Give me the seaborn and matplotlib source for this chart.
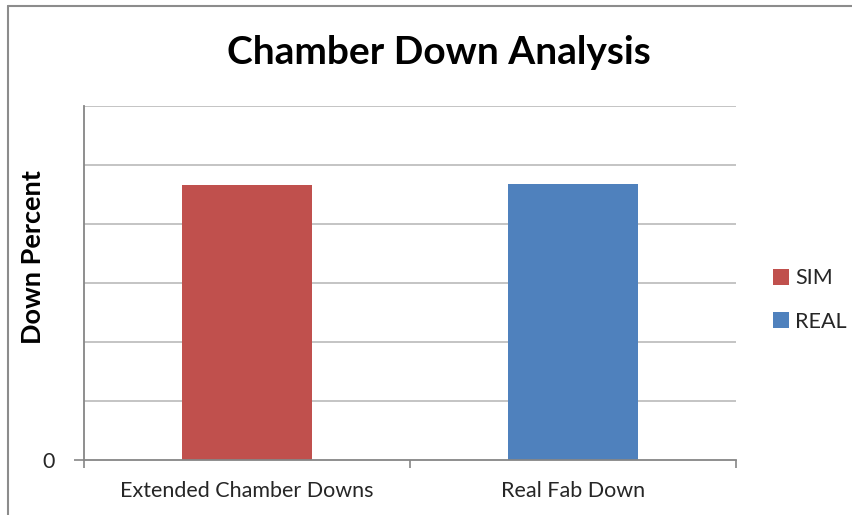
import matplotlib
matplotlib.use("Agg")
import matplotlib.pyplot as plt
from matplotlib.lines import Line2D
import seaborn as sns
import pandas as pd

# Chart data
categories = ["Extended Chamber Downs", "Real Fab Down"]
series = ["SIM", "REAL"]
values = [4.66, 4.68]
colors = ["#C0504D", "#4F81BD"]

sns.set_theme(style="white")
plt.rcParams["font.family"] = ["Lato", "DejaVu Sans"]

df = pd.DataFrame({"category": categories, "series": series, "value": values})

fig = plt.figure(figsize=(8.53, 5.15), dpi=100)
ax = fig.add_axes([84 / 853, 1 - 460 / 515, (736 - 84) / 853, (460 - 106) / 515])

sns.barplot(data=df, x="category", y="value", hue="series", hue_order=series,
            palette=colors, dodge=False, width=0.4, saturation=1, ax=ax,
            legend=True, linewidth=0, edgecolor="none")

ax.set_xlim(-0.5, 1.5)
ax.set_ylim(0, 6)

# y axis: only the zero is labelled, gridlines at each unit
ax.set_yticks([0])
ax.set_yticklabels(["0"], fontsize=15.5)
ax.set_yticks([1, 2, 3, 4, 5, 6], minor=True)
ax.tick_params(axis="y", which="major", length=7, width=1.2, color="#868686",
               pad=14, left=True)
ax.tick_params(axis="y", which="minor", length=0)
ax.grid(False)
ax.yaxis.grid(True, which="minor", color="#BFBFBF", linewidth=1.3)
ax.set_axisbelow(True)

# x axis: tick marks between categories
ax.set_xticks([0, 1])
ax.set_xticklabels(categories, fontsize=15.5)
ax.set_xticks([-0.5, 0.5, 1.5], minor=True)
ax.tick_params(axis="x", which="major", length=0, pad=15)
ax.tick_params(axis="x", which="minor", length=6, width=1.2, color="#868686",
               bottom=True, direction="out")
ax.set_xlabel("")

ax.set_ylabel("Down Percent", fontsize=19.5, fontweight="bold", color="black")
ax.yaxis.set_label_coords(-(84 - 45) / 652, (460 - 257) / 354)

for side in ["top", "right"]:
    ax.spines[side].set_visible(False)
for side in ["left", "bottom"]:
    ax.spines[side].set_color("#868686")
    ax.spines[side].set_linewidth(1.3)

fig.text(439 / 853, 1 - 53 / 515, "Chamber Down Analysis", ha="center",
         va="center", fontsize=28, fontweight="bold", color="black")

leg = ax.legend(loc="center left", bbox_to_anchor=(762 / 853, 1 - 300 / 515),
                bbox_transform=fig.transFigure, frameon=False, fontsize=15.5,
                handlelength=0.75, handleheight=0.75, handletextpad=0.3,
                labelspacing=1.1, borderpad=0)

# chart frame
frame_color = "#8C8C8C"
fig.add_artist(Line2D([8 / 853, 8 / 853], [0, 1 - 6 / 515], color=frame_color,
                      linewidth=1.5, transform=fig.transFigure))
fig.add_artist(Line2D([8 / 853, 1], [1 - 6 / 515, 1 - 6 / 515],
                      color=frame_color, linewidth=1.5,
                      transform=fig.transFigure))

fig.savefig("out.png", dpi=100, facecolor="white")
